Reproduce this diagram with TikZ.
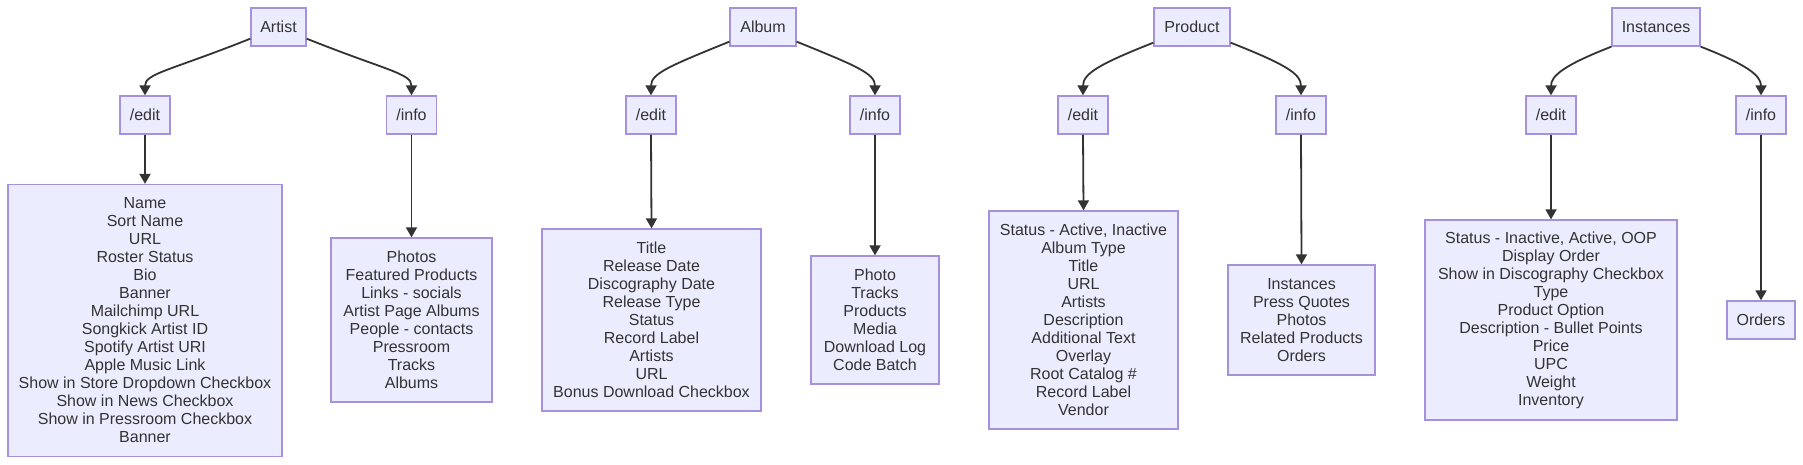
\documentclass[tikz,border=0pt]{standalone}
\usepackage{fontspec}
\setmainfont{Liberation Sans}
\usetikzlibrary{arrows.meta}
\definecolor{boxfill}{HTML}{ECECFF}
\definecolor{boxline}{HTML}{A690E0}
\definecolor{ink}{HTML}{333333}
\begin{document}
\begin{tikzpicture}[x=1pt,y=-1pt,
  box/.style={draw=boxline, line width=1.3pt, fill=boxfill, text=ink, inner sep=0pt,
    align=center, font=\fontsize{16}{18}\selectfont},
  top/.style={box, minimum height=38pt},
  route/.style={box, minimum width=50pt, minimum height=38pt},
  conn/.style={draw=ink, line width=1.8pt, -{Triangle[length=10pt,width=11pt]}}
]
\useasboundingbox[fill=white] (0,0) rectangle (1803,464);

% ---------- Artist ----------
\node[top, minimum width=55pt] (artist) at (278.5,27) {Artist};
\node[route] (aedit) at (145,115) {/edit};
\node[route] (ainfo) at (411.5,115) {/info};
\node[box, minimum width=274pt, minimum height=272pt] (aeditbox) at (145,320.5)
  {Name\\Sort Name\\URL\\Roster Status\\Bio\\Banner\\Mailchimp URL\\Songkick Artist ID\\Spotify Artist URI\\Apple Music Link\\Show in Store Dropdown Checkbox\\Show in News Checkbox\\Show in Pressroom Checkbox\\Banner};
\node[box, minimum width=161pt, minimum height=164pt] (ainfobox) at (411.5,320)
  {Photos\\Featured Products\\Links - socials\\Artist Page Albums\\People - contacts\\Pressroom\\Tracks\\Albums};

% ---------- Album ----------
\node[top, minimum width=66pt] (album) at (763,27) {Album};
\node[route] (bedit) at (651,115) {/edit};
\node[route] (binfo) at (875,115) {/info};
\node[box, minimum width=219pt, minimum height=182pt] (beditbox) at (651.5,320)
  {Title\\Release Date\\Discography Date\\Release Type\\Status\\Record Label\\Artists\\URL\\Bonus Download Checkbox};
\node[box, minimum width=128pt, minimum height=128pt] (binfobox) at (875,320)
  {Photo\\Tracks\\Products\\Media\\Download Log\\Code Batch};

% ---------- Product ----------
\node[top, minimum width=76pt] (product) at (1192,27) {Product};
\node[route] (cedit) at (1083,115) {/edit};
\node[route] (cinfo) at (1301,115) {/info};
\node[box, minimum width=189pt, minimum height=218pt] (ceditbox) at (1083.5,320)
  {Status - Active, Inactive\\Album Type\\Title\\URL\\Artists\\Description\\Additional Text\\Overlay\\Root Catalog \#\\Record Label\\Vendor};
\node[box, minimum width=147pt, minimum height=110pt] (cinfobox) at (1301.5,320)
  {Instances\\Press Quotes\\Photos\\Related Products\\Orders};

% ---------- Instances ----------
\node[top, minimum width=88pt] (inst) at (1656,27) {Instances};
\node[route] (dedit) at (1551,115) {/edit};
\node[route] (dinfo) at (1761,115) {/info};
\node[box, minimum width=252pt, minimum height=200pt] (deditbox) at (1551,320)
  {Status - Inactive, Active, OOP\\Display Order\\Show in Discography Checkbox\\Type\\Product Option\\Description - Bullet Points\\Price\\UPC\\Weight\\Inventory};
\node[box, minimum width=68pt, minimum height=38pt] (dinfobox) at (1761,320) {Orders};

% ---------- connectors ----------
\draw[conn] ([yshift=8pt]artist.south west) .. controls +(-80,32) and +(0,-22) .. (aedit.north);
\draw[conn] ([yshift=8pt]artist.south east) .. controls +(80,32) and +(0,-22) .. (ainfo.north);
\draw[conn] (aedit.south) -- (aeditbox.north);
\draw[conn] (ainfo.south) -- (ainfobox.north);

\draw[conn] ([yshift=5pt]album.south west) .. controls +(-59,24) and +(0,-22) .. (bedit.north);
\draw[conn] ([yshift=5pt]album.south east) .. controls +(59,24) and +(0,-22) .. (binfo.north);
\draw[conn] (bedit.south) -- (beditbox.north);
\draw[conn] (binfo.south) -- (binfobox.north);

\draw[conn] ([yshift=4pt]product.south west) .. controls +(-53,21) and +(0,-22) .. (cedit.north);
\draw[conn] ([yshift=4pt]product.south east) .. controls +(53,21) and +(0,-22) .. (cinfo.north);
\draw[conn] (cedit.south) -- (ceditbox.north);
\draw[conn] (cinfo.south) -- (cinfobox.north);

\draw[conn] (inst.south west) .. controls +(-46,18) and +(0,-20) .. (dedit.north);
\draw[conn] (inst.south east) .. controls +(46,18) and +(0,-20) .. (dinfo.north);
\draw[conn] (dedit.south) -- (deditbox.north);
\draw[conn] (dinfo.south) -- (dinfobox.north);
\end{tikzpicture}
\end{document}
